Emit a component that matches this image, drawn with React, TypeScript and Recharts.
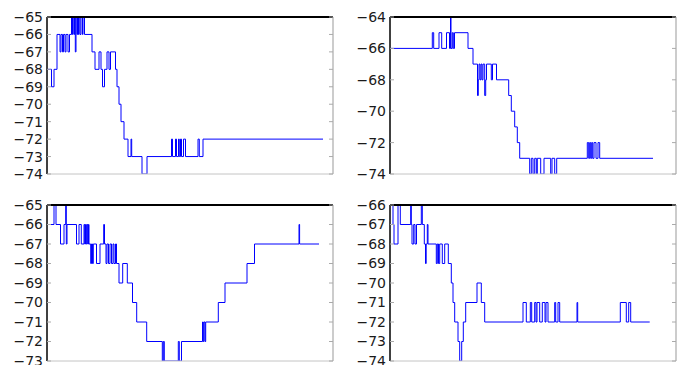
import React from 'react';
import { LineChart, Line, XAxis, YAxis } from 'recharts';

// signal level readings (dBm), stored as change points: t = sample position, v = level
const tlT = [0, 4.5, 7, 10, 13, 14, 15.5, 16.5, 18, 19, 21, 22.5, 24.5, 25.5, 26, 27, 27.5, 28.3, 29, 30, 30.5, 31.5, 32, 33, 34, 35.5, 36, 37.5, 45, 48, 52, 54, 55.5, 57.5, 60, 62, 63.5, 68.5, 70, 72, 74, 77, 81, 84, 84.7, 95, 100, 124.5, 125.5, 128.5, 129.5, 131.5, 132.3, 133.5, 134.5, 136.5, 138.5, 151, 152.3, 156, 276];
const tlV = [-68, -69, -68, -66, -67, -66, -67, -66, -67, -66, -67, -66, -65, -66, -65, -66, -65, -67, -65, -66, -65, -66, -65, -66, -65, -66, -65, -66, -67, -68, -67, -68, -69, -68, -67, -68, -67, -68, -69, -70, -71, -72, -73, -72, -73, -74, -73, -72, -73, -72, -73, -72, -73, -72, -73, -72, -73, -72, -73, -72, -72];

const trT = [0, 42.3, 43.7, 49, 51.7, 56.5, 59.5, 60.5, 61, 62.3, 63.3, 64.5, 78, 83, 87.5, 88.3, 89, 90, 91, 92, 93, 94.7, 95.7, 96.5, 101.3, 102.5, 106.5, 118.7, 121.3, 124.7, 127.3, 129.7, 139.7, 141.3, 143, 144.7, 146.3, 147.3, 150.7, 154, 160.7, 162, 164.7, 166.7, 197.3, 198.7, 199.7, 200.7, 201.7, 202.7, 204, 206, 208, 209.7, 263];
const trV = [-66, -65, -66, -65, -66, -65, -66, -64, -66, -65, -66, -65, -66, -67, -69, -68, -67, -68, -67, -68, -67, -69, -68, -67, -68, -67, -68, -69, -70, -71, -72, -73, -74, -73, -74, -73, -74, -73, -74, -73, -74, -73, -74, -73, -72, -73, -72, -73, -72, -73, -72, -73, -72, -73, -73];

const blT = [0, 7, 9, 13.5, 17, 18.7, 19.3, 20, 29.5, 32, 34.3, 37, 37.7, 38.5, 39.3, 40, 40.7, 41.5, 42, 43.7, 44.5, 45.5, 46.3, 49.5, 53, 56.7, 57.5, 59, 60, 61.5, 63, 64.5, 66, 67, 68.5, 69.5, 72, 75.7, 80.3, 85.5, 89.7, 99.7, 115.3, 116.3, 117.3, 131.3, 132.3, 134.5, 155.5, 156.3, 157, 158, 158.7, 171.3, 178, 200, 207.5, 252, 252.6, 272];
const blV = [-66, -65, -66, -67, -66, -65, -67, -66, -67, -66, -67, -66, -67, -66, -67, -66, -67, -66, -67, -68, -67, -68, -67, -68, -67, -66, -67, -68, -67, -68, -67, -68, -67, -68, -67, -68, -69, -68, -69, -70, -71, -72, -73, -72, -73, -72, -73, -72, -71, -72, -71, -72, -71, -70, -69, -68, -67, -66, -67, -67];

const brT = [0, 3, 4, 8, 10.3, 20.7, 21.3, 22, 23.7, 25, 26.5, 31.3, 32.3, 34.3, 35.5, 36.2, 37.3, 38, 46.3, 47.3, 48.5, 49.7, 52.3, 54.7, 58.3, 61.3, 63, 64.7, 68, 69.7, 71.7, 73.3, 75.7, 87, 91.3, 94.7, 133, 136.3, 140.3, 141.7, 144.7, 146, 147, 149.7, 152.3, 155, 156, 158, 164.7, 165.7, 168, 169.7, 187, 187.7, 230.3, 236.3, 238.7, 240.7, 259.7];
const brV = [-66, -67, -68, -66, -67, -66, -67, -68, -67, -68, -67, -66, -67, -68, -69, -68, -67, -68, -69, -68, -69, -68, -69, -68, -69, -70, -71, -72, -73, -74, -73, -72, -71, -70, -71, -72, -71, -72, -71, -72, -71, -72, -71, -72, -71, -72, -71, -72, -71, -72, -71, -72, -71, -72, -71, -72, -71, -72, -72];

const tlTicks = [-74, -73, -72, -71, -70, -69, -68, -67, -66, -65];
const trTicks = [-74, -72, -70, -68, -66, -64];
const blTicks = [-73, -72, -71, -70, -69, -68, -67, -66, -65];
const brTicks = [-74, -73, -72, -71, -70, -69, -68, -67, -66];

const fmt = (v: number) => String(v).replace('-', '\u2212');

interface PanelProps {
  t: number[];
  v: number[];
  ticks: number[];
  left: number;
  top: number;
  marginTop: number;
  marginBottom: number;
}

function Panel({ t, v, ticks, left, top, marginTop, marginBottom }: PanelProps) {
  const data = t.map((x, i) => ({ t: x, v: v[i] }));
  const yDomain = [ticks[0], ticks[ticks.length - 1]];
  const w = 343;
  const h = 182 + (top > 0 ? 1 : 0);

  return (
    <div style={{ position: 'absolute', left, top, width: w, height: h }}>
      <LineChart
        width={w}
        height={h}
        data={data}
        margin={{ top: marginTop - 1, right: 9, bottom: marginBottom - 1, left: 0 }}
      >
        <XAxis
          xAxisId="b"
          type="number"
          dataKey="t"
          domain={[0, 286]}
          allowDataOverflow
          height={1}
          tick={false}
          tickLine={false}
          axisLine={{ stroke: '#c4c4c4' }}
        />
        <XAxis
          xAxisId="top"
          orientation="top"
          type="number"
          dataKey="t"
          domain={[0, 286]}
          allowDataOverflow
          height={1}
          tick={false}
          tickLine={false}
          axisLine={{ stroke: '#000', strokeWidth: 2 }}
        />
        <YAxis
          yAxisId="l"
          type="number"
          domain={yDomain}
          ticks={ticks}
          interval={0}
          allowDataOverflow
          width={47}
          tickSize={-4}
          tickMargin={8}
          tickFormatter={fmt}
          axisLine={{ stroke: '#000', strokeWidth: 1.5 }}
          tickLine={{ stroke: '#aaa' }}
          tick={{ fill: '#1a1a1a', fontSize: 14, fontFamily: 'DejaVu Sans' }}
        />
        <YAxis
          yAxisId="r"
          orientation="right"
          type="number"
          domain={yDomain}
          ticks={ticks}
          interval={0}
          allowDataOverflow
          width={1}
          tickSize={-4}
          tick={() => <g />}
          axisLine={{ stroke: '#999' }}
          tickLine={{ stroke: '#aaa' }}
        />
        {/* invisible copy so the top and right frame axes are drawn */}
        <Line
          xAxisId="top"
          yAxisId="r"
          type="stepAfter"
          dataKey="v"
          stroke="none"
          dot={false}
          activeDot={false}
          isAnimationActive={false}
        />
        <Line
          xAxisId="b"
          yAxisId="l"
          type="stepAfter"
          dataKey="v"
          stroke="#0000ff"
          strokeWidth={1}
          dot={false}
          isAnimationActive={false}
        />
      </LineChart>
    </div>
  );
}

export default function App() {
  return (
    <div
      style={{
        position: 'absolute',
        left: 0,
        top: 0,
        width: 686,
        height: 365,
        overflow: 'hidden',
        background: '#fff',
      }}
    >
      <Panel t={tlT} v={tlV} ticks={tlTicks} left={0} top={0} marginTop={17} marginBottom={8} />
      <Panel t={trT} v={trV} ticks={trTicks} left={343} top={0} marginTop={17} marginBottom={8} />
      <Panel t={blT} v={blV} ticks={blTicks} left={0} top={182} marginTop={23} marginBottom={4} />
      <Panel t={brT} v={brV} ticks={brTicks} left={343} top={182} marginTop={23} marginBottom={4} />
    </div>
  );
}
